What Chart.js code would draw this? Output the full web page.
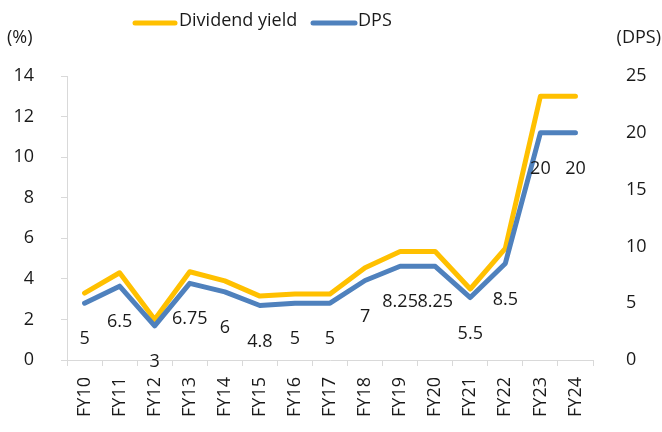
<!DOCTYPE html>
<html>
<head>
<meta charset="utf-8">
<script src="https://cdn.jsdelivr.net/npm/chart.js@4/dist/chart.umd.min.js"></script>
<style>
html,body{margin:0;padding:0;background:#fff;}
canvas{display:block;}
</style>
</head>
<body>
<canvas id="c" width="662" height="432"></canvas>
<script>
const categories = ['FY10','FY11','FY12','FY13','FY14','FY15','FY16','FY17','FY18','FY19','FY20','FY21','FY22','FY23','FY24'];
const dividendYield = [3.3, 4.3, 2.0, 4.35, 3.9, 3.15, 3.25, 3.25, 4.55, 5.35, 5.35, 3.5, 5.5, 13.0, 13.0];
const dps = [5, 6.5, 3, 6.75, 6, 4.8, 5, 5, 7, 8.25, 8.25, 5.5, 8.5, 20, 20];
const dpsLabels = ['5','6.5','3','6.75','6','4.8','5','5','7','8.25','8.25','5.5','8.5','20','20'];
const leftTicks = [0, 14, 2];   // min, max, step
const rightTicks = [0, 25, 5];
const seriesNames = ['Dividend yield', 'DPS'];
const colors = ['#FFC000', '#4F81BD'];

const FONT = '"Open Sans", "Noto Sans", sans-serif';
const TXT = '#1a1a1a';
const FS = 18;

const overlay = {
  id: 'overlay',
  afterDatasetsDraw(chart) {
    const ctx = chart.ctx;
    ctx.save();
    const meta = chart.getDatasetMeta(1);
    ctx.font = FS + 'px ' + FONT;
    ctx.fillStyle = TXT;
    ctx.textAlign = 'center';
    ctx.textBaseline = 'middle';
    meta.data.forEach((pt, i) => {
      ctx.fillText(dpsLabels[i], pt.x, pt.y + 36);
    });
    ctx.textAlign = 'left';
    ctx.fillText('(%)', 7, 38);
    ctx.textAlign = 'right';
    ctx.fillText('(DPS)', 661, 38);
    const items = [[135, 175, 179], [313, 355, 358]];
    items.forEach((it, i) => {
      ctx.strokeStyle = colors[i];
      ctx.lineWidth = 5;
      ctx.lineCap = 'round';
      ctx.beginPath();
      ctx.moveTo(it[0], 23);
      ctx.lineTo(it[1], 23);
      ctx.stroke();
      ctx.textAlign = 'left';
      ctx.fillText(seriesNames[i], it[2], 21);
    });
    ctx.restore();
  }
};

new Chart(document.getElementById('c'), {
  type: 'line',
  data: {
    labels: categories,
    datasets: [
      { label: seriesNames[0], data: dividendYield, yAxisID: 'y', borderColor: colors[0], backgroundColor: colors[0], borderWidth: 5, pointRadius: 0, tension: 0, borderCapStyle: 'round', borderJoinStyle: 'round', order: 1 },
      { label: seriesNames[1], data: dps, yAxisID: 'y1', borderColor: colors[1], backgroundColor: colors[1], borderWidth: 5, pointRadius: 0, tension: 0, borderCapStyle: 'round', borderJoinStyle: 'round', order: 0 }
    ]
  },
  options: {
    responsive: false,
    animation: false,
    layout: { padding: { top: 76, left: 0, right: 0, bottom: 0 } },
    plugins: { legend: { display: false }, tooltip: { enabled: false } },
    scales: {
      x: {
        offset: true,
        grid: { display: true, drawOnChartArea: false, offset: true, color: '#d9d9d9', tickLength: 6 },
        border: { color: '#d9d9d9', width: 1 },
        ticks: { minRotation: 90, maxRotation: 90, autoSkip: false, padding: 11, color: TXT, font: { family: FONT, size: FS } },
        afterFit(s) { s.height = 72; }
      },
      y: {
        position: 'left',
        min: leftTicks[0], max: leftTicks[1],
        ticks: { stepSize: leftTicks[2], padding: 27, color: TXT, font: { family: FONT, size: FS } },
        grid: { display: true, drawOnChartArea: false, color: '#d9d9d9', tickLength: 6 },
        border: { color: '#d9d9d9', width: 1 },
        afterFit(s) { s.width = 67; }
      },
      y1: {
        position: 'right',
        min: rightTicks[0], max: rightTicks[1],
        ticks: { stepSize: rightTicks[2], padding: 25, color: TXT, font: { family: FONT, size: FS } },
        grid: { display: false, drawOnChartArea: false },
        border: { display: false },
        afterFit(s) { s.width = 69; }
      }
    }
  },
  plugins: [overlay]
});
</script>
</body>
</html>
